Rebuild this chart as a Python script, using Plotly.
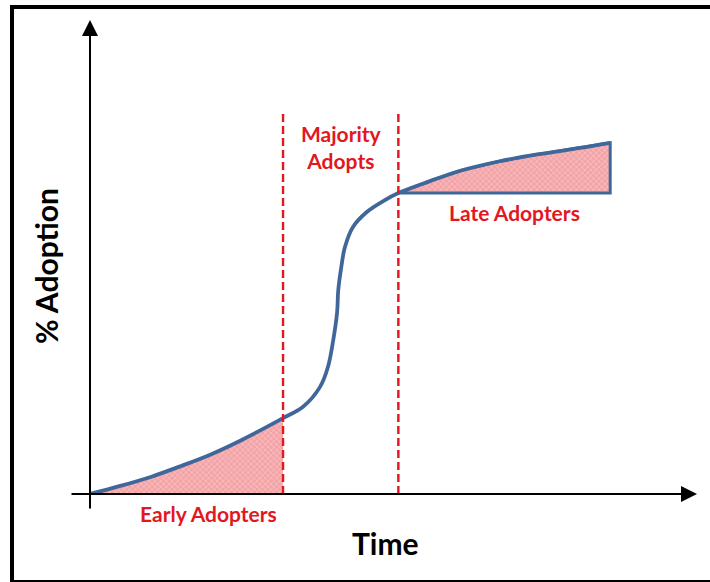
import plotly.graph_objects as go

# Data (time in % of x-range, adoption in % of y-range)
time = [0, 5, 10, 15, 20, 25, 31.8, 35.1, 37.9, 39.2, 40.0, 40.7, 40.9, 41.4, 42.0, 43.3, 45.6,
        48.3, 50.8, 56, 61, 67.5, 74, 80.7, 85.7]
adoption = [0, 1.7, 3.6, 5.9, 8.4, 11.4, 16.0, 18.4, 22.6, 26.8, 31.9, 38.2, 43.0, 47.9, 52.1,
            56.3, 59.5, 61.8, 63.5, 66.0, 68.2, 70.2, 71.7, 73.0, 74.1]
early_end = 31.8
late_start = 50.8
divider_x = [early_end, late_start]
divider_top = 80.6

labels = {
    "majority": "Majority<br>Adopts",
    "late": "Late Adopters",
    "early": "Early Adopters",
    "xtitle": "Time",
    "ytitle": "% Adoption",
}

BLUE = "#40679A"
RED = "#E3171E"
PINK = "#F4A3A6"
FONT = "Lato, 'Open Sans', sans-serif"

W, H = 710, 582
L, R, T, B = 90, 13, 20, 88
pw, ph = W - L - R, H - T - B


def px2paper_x(sx):
    return (sx - L) / pw


def px2paper_y(sy):
    return (H - B - sy) / ph


fig = go.Figure()

pattern = dict(shape="x", bgcolor=PINK, fgcolor="#FFFFFF", size=4, solidity=0.25)

# Early adopters fill
ex = [t for t in time if t <= early_end]
ey = adoption[:len(ex)]
fig.add_trace(go.Scatter(x=ex, y=ey, mode="lines", line=dict(color=BLUE, width=0),
                         fill="tozeroy", fillcolor=PINK, fillpattern=pattern,
                         hoverinfo="skip", showlegend=False))

# Late adopters fill (closed polygon)
li = [i for i, t in enumerate(time) if t >= late_start]
lx = [time[i] for i in li]
ly = [adoption[i] for i in li]
base = adoption[li[0]]
poly_x = lx + [lx[-1], lx[0]]
poly_y = ly + [base, base]
fig.add_trace(go.Scatter(x=poly_x, y=poly_y, mode="lines", line=dict(color=BLUE, width=3),
                         fill="toself", fillcolor=PINK, fillpattern=pattern,
                         hoverinfo="skip", showlegend=False))

# Main S-curve
fig.add_trace(go.Scatter(x=time, y=adoption, mode="lines",
                         line=dict(color=BLUE, width=3.8, shape="spline", smoothing=1),
                         hoverinfo="skip", showlegend=False))

# Early fill bottom edge
fig.add_trace(go.Scatter(x=[0, early_end], y=[0, 0], mode="lines",
                         line=dict(color=BLUE, width=2), hoverinfo="skip", showlegend=False))

# Dashed dividers
for dx in divider_x:
    fig.add_trace(go.Scatter(x=[dx, dx], y=[0, divider_top], mode="lines",
                             line=dict(color=RED, width=2.4, dash="8px,4px"),
                             hoverinfo="skip", showlegend=False))

shapes = [
    dict(type="rect", xref="paper", yref="paper",
         x0=px2paper_x(12), x1=px2paper_x(714), y0=px2paper_y(582), y1=px2paper_y(7),
         line=dict(color="black", width=4), fillcolor="rgba(0,0,0,0)", layer="above"),
]

annotations = [
    # y axis arrow
    dict(x=0, y=1, xref="paper", yref="paper", ax=0, ay=490, axref="pixel", ayref="pixel",
         showarrow=True, arrowhead=2, arrowsize=1.6, arrowwidth=2, arrowcolor="black", text=""),
    # x axis arrow
    dict(x=1, y=0, xref="paper", yref="paper", ax=-627, ay=0,
         showarrow=True, arrowhead=2, arrowsize=1.6, arrowwidth=2, arrowcolor="black", text=""),
    dict(x=41.5, y=73.2, xref="x", yref="y", text="<b>" + labels["majority"] + "</b>",
         showarrow=False, font=dict(family=FONT, size=21, color=RED), align="center",
         xanchor="center", yanchor="middle"),
    dict(x=px2paper_x(514), y=px2paper_y(212), xref="paper", yref="paper",
         text="<b>" + labels["late"] + "</b>", xanchor="center", yanchor="middle",
         showarrow=False, font=dict(family=FONT, size=21, color=RED)),
    dict(x=px2paper_x(208), y=px2paper_y(513), xref="paper", yref="paper",
         text="<b>" + labels["early"] + "</b>", xanchor="center", yanchor="middle",
         showarrow=False, font=dict(family=FONT, size=21, color=RED)),
    dict(x=px2paper_x(385), y=px2paper_y(543), xref="paper", yref="paper",
         text="<b>" + labels["xtitle"] + "</b>", showarrow=False,
         xanchor="center", yanchor="middle",
         font=dict(family=FONT, size=30, color="black")),
    dict(x=px2paper_x(46), y=px2paper_y(266), xref="paper", yref="paper",
         text="<b>" + labels["ytitle"] + "</b>", showarrow=False, textangle=-90,
         xanchor="center", yanchor="middle",
         font=dict(family=FONT, size=30, color="black")),
]

fig.update_layout(
    width=W, height=H,
    margin=dict(l=L, r=R, t=T, b=B),
    paper_bgcolor="white", plot_bgcolor="white",
    xaxis=dict(range=[0, 100], visible=False, fixedrange=True),
    yaxis=dict(range=[0, 100], visible=False, fixedrange=True),
    shapes=shapes, annotations=annotations, showlegend=False,
)

fig.write_html("out.html", config={"displayModeBar": False},
               post_script="document.body.style.margin='0';document.body.style.overflow='hidden';")
